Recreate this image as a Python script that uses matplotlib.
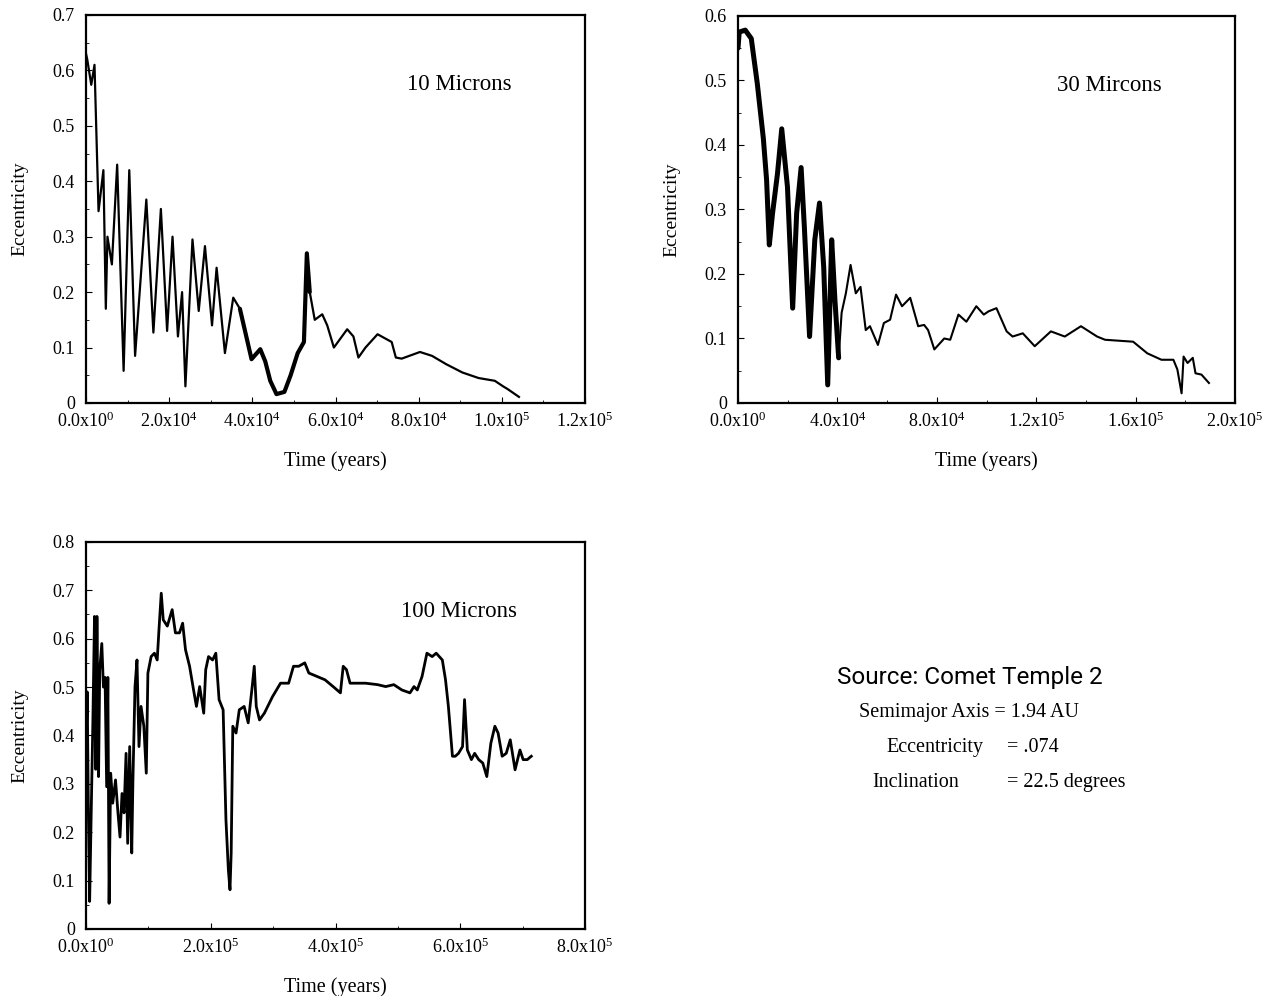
import matplotlib
matplotlib.use("Agg")
import matplotlib.pyplot as plt
from matplotlib.ticker import FixedLocator, AutoMinorLocator

plt.rcParams['font.family'] = ['Liberation Serif', 'DejaVu Serif']
plt.rcParams['mathtext.fontset'] = 'custom'
plt.rcParams['mathtext.rm'] = 'Liberation Serif'
plt.rcParams['mathtext.it'] = 'Liberation Serif'

# --- 10 microns (time in 1e3 years) ---
t10 = [0, 0.29, 1.26, 2.04, 3.01, 4.18, 4.76, 5.15, 6.22, 7.49, 9.04, 10.4, 11.8,
       14.5, 16.2, 18.0, 19.5, 20.8, 22.1, 23.1, 23.9, 25.6, 27.1, 28.6, 30.3, 31.4,
       33.4, 35.4, 37.0, 39.8, 41.9, 43.1, 44.3, 45.8, 47.7, 49.2, 50.9, 52.4, 53.1,
       53.8, 55.0, 56.8, 58.0, 59.6, 62.8, 64.3, 65.5, 67.2, 70.1, 73.5, 74.5, 75.9,
       80.3, 83.2, 86.6, 90.5, 94.4, 98.3, 100.3, 101.4, 104.1]
e10 = [0.63, 0.62, 0.574, 0.61, 0.346, 0.42, 0.17, 0.30, 0.25, 0.43, 0.058, 0.42, 0.085,
       0.367, 0.127, 0.35, 0.13, 0.30, 0.12, 0.20, 0.03, 0.295, 0.166, 0.283, 0.14, 0.244,
       0.09, 0.19, 0.17, 0.079, 0.097, 0.075, 0.04, 0.016, 0.02, 0.05, 0.09, 0.11, 0.27,
       0.20, 0.15, 0.16, 0.14, 0.10, 0.133, 0.12, 0.082, 0.10, 0.124, 0.11, 0.082, 0.08,
       0.092, 0.085, 0.07, 0.055, 0.045, 0.04, 0.03, 0.025, 0.011]

# --- 30 microns ---
t30 = [0, 0.49, 2.91, 5.34, 7.77, 10.2, 11.5, 12.6, 13.9, 15.9, 17.6, 19.9, 22.0, 23.6,
       25.4, 26.7, 28.8, 30.9, 32.8, 34.5, 36.1, 37.7, 39.0, 40.5, 41.7, 43.4, 45.3, 47.4,
       49.3, 51.4, 53.1, 56.3, 58.7, 61.2, 63.6, 66.0, 69.3, 72.5, 74.9, 76.5, 79.0, 83.0,
       85.4, 88.7, 91.9, 95.9, 98.9, 100.8, 104.0, 108.1, 110.5, 114.6, 119.4, 125.9,
       131.5, 138.0, 144.5, 147.7, 159.0, 164.7, 170.4, 175.2, 176.8, 178.5, 179.3, 180.9,
       183.0, 184.1, 186.5, 189.5]
e30 = [0.55, 0.575, 0.578, 0.565, 0.495, 0.41, 0.346, 0.245, 0.294, 0.356, 0.425, 0.335,
       0.147, 0.294, 0.365, 0.273, 0.103, 0.253, 0.31, 0.21, 0.028, 0.253, 0.16, 0.07,
       0.14, 0.17, 0.214, 0.17, 0.18, 0.113, 0.119, 0.09, 0.124, 0.129, 0.168, 0.15, 0.163,
       0.119, 0.121, 0.113, 0.083, 0.10, 0.098, 0.137, 0.126, 0.15, 0.137, 0.142, 0.147,
       0.111, 0.103, 0.108, 0.088, 0.111, 0.103, 0.119, 0.103, 0.098, 0.095, 0.077, 0.067,
       0.067, 0.052, 0.015, 0.072, 0.062, 0.07, 0.046, 0.044, 0.031]

# --- 100 microns ---
t100 = [0, 1.9, 3.9, 5.8, 8.4, 11.0, 13.6, 15.6, 17.5, 20.1, 22.0, 25.3, 27.9, 30.5, 33.1,
        35.0, 37.0, 39.5, 42.8, 47.3, 51.2, 54.5, 57.7, 60.9, 64.2, 66.8, 70.0, 73.3, 75.2,
        78.5, 81.7, 84.9, 88.2, 92.7, 96.6, 99.2, 104.4, 109.6, 114.1, 117.3, 120.6, 123.8,
        130.3, 138.1, 143.3, 149.8, 154.9, 159.5, 166.0, 172.4, 177.0, 182.2, 188.7, 191.9,
        196.4, 202.9, 208.1, 213.3, 219.8, 224.3, 228.2, 230.8, 232.7, 235.3, 240.5, 245.7,
        253.5, 260.0, 266.4, 269.7, 272.9, 278.1, 285.9, 298.9, 311.8, 324.8, 332.6, 341.0,
        350.7, 357.2, 370.2, 383.1, 396.1, 407.8, 412.3, 417.5, 423.3, 435.0, 448.0, 467.4,
        480.4, 493.4, 506.3, 519.3, 525.8, 531.0, 538.7, 546.5, 554.9, 561.4, 571.2, 576.3,
        580.9, 587.4, 591.9, 597.1, 603.6, 606.8, 611.3, 617.8, 623.0, 629.5, 636.0, 642.5,
        649.0, 655.4, 660.6, 667.1, 673.6, 680.1, 687.8, 695.6, 700.8, 707.3, 713.8]
e100 = [0.36, 0.49, 0.23, 0.057, 0.246, 0.43, 0.646, 0.33, 0.646, 0.315, 0.536, 0.59, 0.50,
        0.52, 0.294, 0.52, 0.053, 0.322, 0.26, 0.308, 0.24, 0.19, 0.28, 0.24, 0.363, 0.177,
        0.377, 0.157, 0.308, 0.50, 0.556, 0.377, 0.46, 0.419, 0.322, 0.529, 0.563, 0.57,
        0.556, 0.626, 0.694, 0.639, 0.626, 0.66, 0.612, 0.612, 0.632, 0.577, 0.543, 0.494,
        0.46, 0.501, 0.446, 0.536, 0.563, 0.556, 0.57, 0.474, 0.453, 0.226, 0.122, 0.081,
        0.157, 0.419, 0.405, 0.453, 0.46, 0.426, 0.501, 0.543, 0.46, 0.432, 0.446, 0.48,
        0.508, 0.508, 0.543, 0.543, 0.55, 0.529, 0.522, 0.515, 0.501, 0.488, 0.543, 0.536,
        0.508, 0.508, 0.508, 0.505, 0.501, 0.505, 0.494, 0.488, 0.501, 0.494, 0.522, 0.57,
        0.563, 0.57, 0.556, 0.515, 0.46, 0.357, 0.357, 0.363, 0.377, 0.474, 0.37, 0.35,
        0.363, 0.35, 0.343, 0.315, 0.384, 0.419, 0.405, 0.357, 0.363, 0.391, 0.329, 0.37,
        0.35, 0.35, 0.357]

labels = ["10 Microns", "30 Mircons", "100 Microns"]
info_title = "Source: Comet Temple 2"
info_left = ["Eccentricity", "Inclination"]
info_right = ["= .074", "= 22.5 degrees"]
info_axis = "Semimajor Axis = 1.94 AU"


def sci(v):
    if v == 0:
        return r"0.0x10$^{0}$"
    exp = len(str(int(v))) - 1
    return f"{v / 10**exp:.1f}x10$^{{{exp}}}$"


def setup(ax, xmax, xstep, ymax, label):
    xt = [i * xstep for i in range(int(round(xmax / xstep)) + 1)]
    ax.set_xlim(0, xmax)
    ax.set_ylim(0, ymax)
    ax.xaxis.set_major_locator(FixedLocator(xt))
    ax.set_xticklabels([sci(v) for v in xt], fontsize=13)
    yt = [round(i * 0.1, 1) for i in range(int(round(ymax * 10)) + 1)]
    ax.set_yticks(yt)
    ax.set_yticklabels(["0"] + [f"{v:.1f}" for v in yt[1:]], fontsize=13)
    ax.yaxis.set_minor_locator(AutoMinorLocator(2))
    ax.xaxis.set_minor_locator(AutoMinorLocator(2))
    ax.tick_params(direction='in', length=4, width=0.8)
    ax.tick_params(axis='x', pad=6)
    ax.tick_params(axis='y', pad=8)
    ax.tick_params(which='minor', direction='in', length=2, width=0.6)
    for s in ax.spines.values():
        s.set_linewidth(1.6)
    ax.set_xlabel("Time (years)", fontsize=14.5)
    ax.set_ylabel("Eccentricity", fontsize=14)
    ax.xaxis.set_label_coords(0.5, -0.124)
    ax.yaxis.set_label_coords(-0.116, 0.5)
    ax.text(0.748, 0.82, label, transform=ax.transAxes, fontsize=16.5,
            ha='center', va='center')


fig = plt.figure(figsize=(12.65, 9.96), dpi=100)
ax1 = fig.add_axes([0.0680, 0.5954, 0.3945, 0.3896])
ax2 = fig.add_axes([0.5834, 0.5954, 0.3929, 0.3886])
ax3 = fig.add_axes([0.0680, 0.0673, 0.3945, 0.3886])

x10 = [t * 1e3 for t in t10]
ax1.plot(x10, e10, color='black', lw=1.6)
# thicker band where the fast oscillation smears the curve
band = [i for i, t in enumerate(t10) if 37 <= t <= 54]
ax1.plot([x10[i] for i in band], [e10[i] for i in band], color='black', lw=3.0,
         solid_capstyle='round')
setup(ax1, 1.2e5, 2e4, 0.7, labels[0])

x30 = [t * 1e3 for t in t30]
ax2.plot(x30, e30, color='black', lw=1.5)
band = [i for i, t in enumerate(t30) if t <= 41]
ax2.plot([x30[i] for i in band], [e30[i] for i in band], color='black', lw=3.6,
         solid_capstyle='round', solid_joinstyle='round')
setup(ax2, 2.0e5, 4e4, 0.6, labels[1])

ax3.plot([t * 1e3 for t in t100], e100, color='black', lw=2.0)
setup(ax3, 8e5, 2e5, 0.8, labels[2])

fig.text(970 / 1265, 1 - 677 / 996, info_title, ha='center', va='center',
         fontsize=17.5, family=['Roboto', 'DejaVu Sans'])
fig.text(859 / 1265, 1 - 712 / 996, info_axis, ha='left', va='center', fontsize=14.5)
for i in range(len(info_left)):
    y = 1 - (747 + i * 35) / 996
    fig.text([886, 872][i] / 1265, y, info_left[i], ha='left', va='center', fontsize=14.5)
    fig.text(1007 / 1265, y, info_right[i], ha='left', va='center', fontsize=14.5)

fig.savefig("out.png", dpi=100)
